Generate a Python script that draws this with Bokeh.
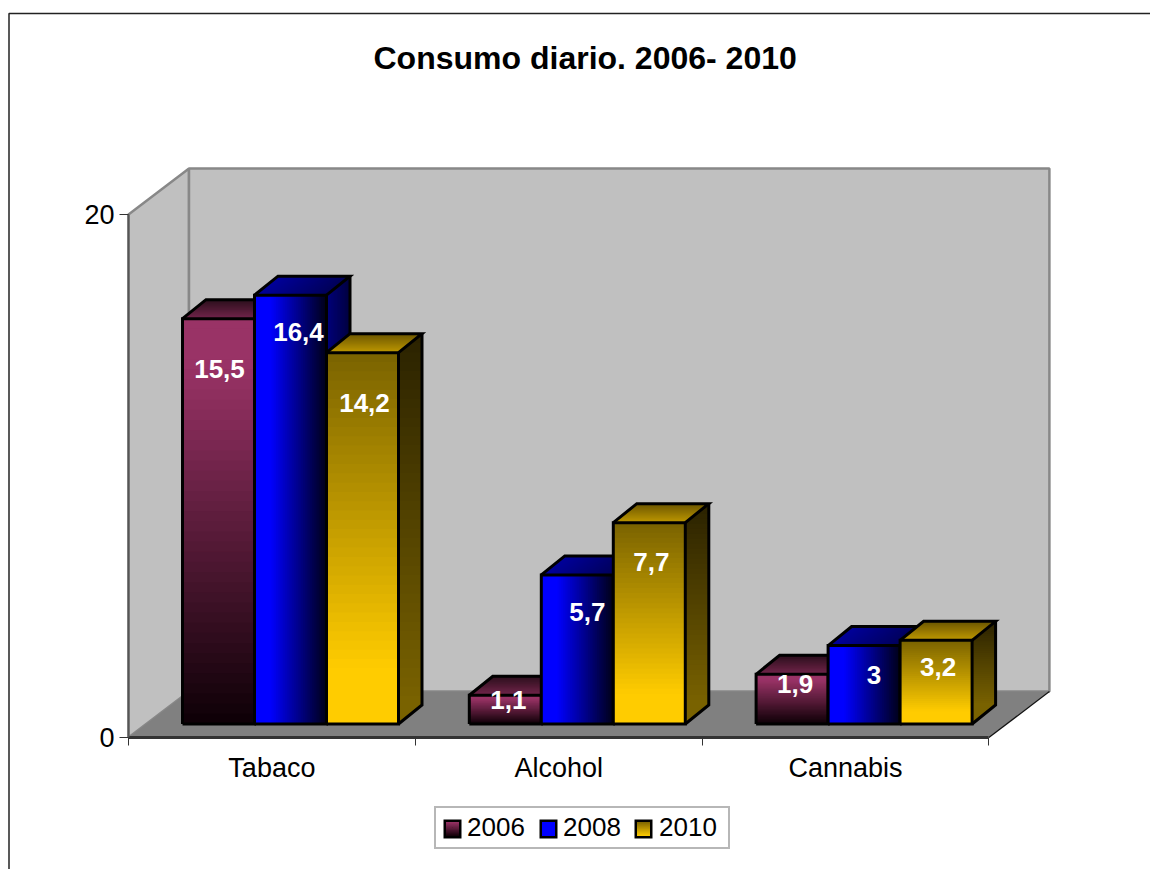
from bokeh.plotting import figure
from bokeh.models import LinearAxis, FixedTicker, Range1d, Legend, LegendItem, Title
from bokeh.core.properties import value
from bokeh.embed import file_html
from bokeh.resources import INLINE

categories = ["Tabaco", "Alcohol", "Cannabis"]
years = ["2006", "2008", "2010"]
v2006 = [15.5, 1.1, 1.9]
v2008 = [16.4, 5.7, 3.0]
v2010 = [14.2, 7.7, 3.2]
labels2006 = ["15,5", "1,1", "1,9"]
labels2008 = ["16,4", "5,7", "3"]
labels2010 = ["14,2", "7,7", "3,2"]
title_text = "Consumo diario. 2006- 2010"
y_ticks = [0, 20]

# geometry (pixels on the page)
W, H = 1150, 869
ORIGIN_X, ORIGIN_Y = 128.0, 737.0
CAT_PX, UNIT_PX = 286.8, 26.15
x_start = (0 - ORIGIN_X) / CAT_PX
x_end = (W - ORIGIN_X) / CAT_PX
y_start = (ORIGIN_Y - H) / UNIT_PX
y_end = ORIGIN_Y / UNIT_PX


def dx(px):
    return px / CAT_PX


def dy(px):
    return px / UNIT_PX


def page_x(px):
    return (px - ORIGIN_X) / CAT_PX


def page_y(py):
    return (ORIGIN_Y - py) / UNIT_PX


p = figure(width=W, height=H, output_backend="svg", toolbar_location=None,
           x_axis_location=None, y_axis_location=None,
           x_range=Range1d(x_start, x_end), y_range=Range1d(y_start, y_end),
           min_border=0, background_fill_color="white",
           border_fill_color="white", outline_line_color=None)
p.grid.visible = False

p.title = Title(text=title_text, align="left", offset=373, text_font="Liberation Sans",
                text_font_size="32px", text_font_style="bold", text_color="black", standoff=-151)

# chart border: only the left and top edges are in view
p.line([page_x(8.5), page_x(8.5), page_x(W)], [page_y(H), page_y(13), page_y(13)],
       line_color="#222222", line_width=1.5)

# walls and floor
WALL_DX, WALL_DY = dx(60.5), dy(46)
top_val, n_cat = y_ticks[1], len(categories)
p.patch([0, WALL_DX, WALL_DX, 0], [0, WALL_DY, top_val + WALL_DY, top_val],
        fill_color="#c0c0c0", line_color="#888888", line_width=2.5)
p.patch([WALL_DX, n_cat + WALL_DX, n_cat + WALL_DX, WALL_DX],
        [WALL_DY, WALL_DY, top_val + WALL_DY, top_val + WALL_DY],
        fill_color="#c0c0c0", line_color="#888888", line_width=2.5)
p.patch([0, n_cat, n_cat + WALL_DX, WALL_DX], [0, 0, WALL_DY, WALL_DY],
        fill_color="#808080", line_color=None)
p.line([n_cat, n_cat + WALL_DX], [0, WALL_DY], line_color="#111111", line_width=1.2)

# axes
y_axis = LinearAxis(fixed_location=0, ticker=FixedTicker(ticks=y_ticks), bounds=(0, 20),
                    axis_line_color="#555555", axis_line_width=2,
                    major_tick_line_color="#333333", major_tick_out=9, major_tick_in=0,
                    minor_tick_line_color=None, major_label_standoff=5,
                    major_label_text_font="Liberation Sans", major_label_text_font_size="27px",
                    major_label_text_color="black")
p.add_layout(y_axis, "left")
x_axis = LinearAxis(fixed_location=0,
                    ticker=FixedTicker(ticks=[i + 0.5 for i in range(n_cat)],
                                       minor_ticks=list(range(n_cat + 1))),
                    bounds=(0, n_cat), axis_line_color="#333333", axis_line_width=3,
                    major_tick_line_color=None, major_tick_in=0, major_tick_out=0,
                    minor_tick_line_color="#333333", minor_tick_out=8, minor_tick_in=0,
                    major_label_overrides={i + 0.5: c for i, c in enumerate(categories)},
                    major_label_standoff=7, major_label_text_font="Liberation Sans",
                    major_label_text_font_size="27px", major_label_text_color="black")
p.add_layout(x_axis, "below")


def mix(stops, f):
    for (f0, c0), (f1, c1) in zip(stops, stops[1:]):
        if f <= f1:
            t = 0 if f1 == f0 else max(0.0, (f - f0) / (f1 - f0))
            rgb = [int(int(c0[k:k + 2], 16) * (1 - t) + int(c1[k:k + 2], 16) * t) for k in (1, 3, 5)]
            return "#%02x%02x%02x" % tuple(rgb)
    return stops[-1][1]


STYLES = {
    "2006": dict(front=[(0, "#993366"), (0.12, "#993366"), (1, "#0e0006")], horizontal=False,
                 top=[(0, "#2b0f1c"), (1, "#73264c")], side=[(0, "#25101a"), (1, "#0a0005")],
                 swatch=[(0, "#993366"), (1, "#120008")], marker="#120008"),
    "2008": dict(front=[(0, "#0000ff"), (0.22, "#0000ff"), (1, "#000018")], horizontal=True,
                 top=[(0, "#00009c"), (1, "#000058")], side=[(0, "#00007c"), (1, "#000040")],
                 swatch=[(0, "#0000ff"), (1, "#0000ff")], marker="#0000ff"),
    "2010": dict(front=[(0, "#7a6300"), (0.85, "#ffcc00"), (1, "#ffcc00")], horizontal=False,
                 top=[(0, "#6b5600"), (1, "#bf9900")], side=[(0, "#2a2200"), (1, "#7a6300")],
                 swatch=[(0, "#7f6600"), (1, "#ffcc00")], marker="#bf9900"),
}

BASE = dy(13.5)
INSET, BAR_W = dx(54), dx(72)
BAR_DX, BAR_DY = dx(23.5), dy(19)
N = 40


def bar_polys(i, j, v, st):
    """Faces as bands painted in order; each band runs on to the far edge, so no seams."""
    xs, ys, cols = [], [], []
    x0 = i + INSET + j * BAR_W
    x1 = x0 + BAR_W
    y0, y1 = BASE, BASE + v

    def add(px, py, c):
        xs.append(px); ys.append(py); cols.append(c)

    # right side
    for k in range(N):
        a = k / N
        c = mix(st["side"], (k + .5) / N)
        if st["horizontal"]:
            xa = x1 + a * BAR_DX
            xb = x1 + BAR_DX
            add([xa, xb, xb, xa], [y1 + a * BAR_DY, y1 + BAR_DY, y0 + BAR_DY, y0 + a * BAR_DY], c)
        else:
            ya = y1 - a * v
            add([x1, x1 + BAR_DX, x1 + BAR_DX, x1], [ya + BAR_DY, ya + BAR_DY, y0 + BAR_DY, y0], c)
    # top
    for k in range(N):
        a = k / N
        c = mix(st["top"], (k + .5) / N)
        if st["horizontal"]:
            xa = x0 + a * BAR_W
            add([xa, x1, x1 + BAR_DX, xa + BAR_DX], [y1, y1, y1 + BAR_DY, y1 + BAR_DY], c)
        else:
            d = 1 - a  # a = 0 is the back edge
            add([x0 + d * BAR_DX, x1 + d * BAR_DX, x1, x0],
                [y1 + d * BAR_DY, y1 + d * BAR_DY, y1, y1], c)
    # front
    for k in range(N):
        a = k / N
        c = mix(st["front"], (k + .5) / N)
        if st["horizontal"]:
            xa = x0 + a * BAR_W
            add([xa, x1, x1, xa], [y0, y0, y1, y1], c)
        else:
            ya = y1 - a * v
            add([x0, x1, x1, x0], [ya, ya, y0, y0], c)
    return xs, ys, cols, (x0, x1, y0, y1)


for j, (yr, vals) in enumerate(zip(years, [v2006, v2008, v2010])):
    st = STYLES[yr]
    xs, ys, cols = [], [], []
    ox, oy = [], []
    for i, v in enumerate(vals):
        a, b, c, (x0, x1, y0, y1) = bar_polys(i, j, v, st)
        xs += a; ys += b; cols += c
        ox += [[x0, x1, x1, x0, x0], [x0, x0 + BAR_DX, x1 + BAR_DX, x1],
               [x1 + BAR_DX, x1 + BAR_DX, x1]]
        oy += [[y0, y0, y1, y1, y0], [y1, y1 + BAR_DY, y1 + BAR_DY, y1],
               [y1 + BAR_DY, y0 + BAR_DY, y0]]
    p.patches(xs, ys, fill_color=cols, line_color=None)
    p.multi_line(ox, oy, line_color="black", line_width=3, line_join="miter")

# data labels
LABEL_DROP = [[50, 37, 50], [5, 37, 39], [10, 29, 27]]
LABEL_SHIFT = [[1, 8, 2], [3, 10, 2], [3, 10, 2]]
lx, ly, lt = [], [], []
for j, (vals, txt) in enumerate(zip([v2006, v2008, v2010], [labels2006, labels2008, labels2010])):
    for i, v in enumerate(vals):
        lx.append(i + INSET + (j + .5) * BAR_W + dx(LABEL_SHIFT[i][j]))
        ly.append(BASE + v - dy(LABEL_DROP[i][j]))
        lt.append(txt[i])
p.text(x=lx, y=ly, text=lt, text_color="white", text_font=value("Liberation Sans"),
       text_font_size="26px", text_font_style="bold", text_align="center", text_baseline="middle")

# graded legend swatches, painted beneath a see-through legend
for yr, sx in zip(years, [443.0, 539.0, 634.0]):
    st = STYLES[yr]
    n = 12
    xs = [[page_x(sx), page_x(sx + 18), page_x(sx + 18), page_x(sx)]]
    ys = [[page_y(819), page_y(819), page_y(838), page_y(838)]]
    cols = ["#000000"]
    for k in range(n):
        top_px = 821.5 + k / n * 14
        xs.append([page_x(sx + 2.5), page_x(sx + 15.5), page_x(sx + 15.5), page_x(sx + 2.5)])
        ys.append([page_y(top_px), page_y(top_px), page_y(835.5), page_y(835.5)])
        cols.append(mix(st["swatch"], (k + .5) / n))
    p.patches(xs, ys, fill_color=cols, line_color=None)

# legend: lays out the entries; its own markers are a speck in the middle of each swatch
items = []
for yr in years:
    r = p.scatter(x=[float("nan")], y=[float("nan")], marker="square",
                  fill_color=STYLES[yr]["marker"], line_color=None)
    items.append(LegendItem(label=yr, renderers=[r]))
legend = Legend(items=items, orientation="horizontal", location=(434, 20),
                glyph_width=24, glyph_height=1, label_standoff=3, spacing=4, padding=4, margin=0,
                label_width=65, label_text_font="Liberation Sans", label_text_font_size="26px",
                label_text_color="black", border_line_color="#707070", border_line_width=2,
                background_fill_alpha=0)
p.add_layout(legend)

open("out.html", "w").write(file_html(p, INLINE))
